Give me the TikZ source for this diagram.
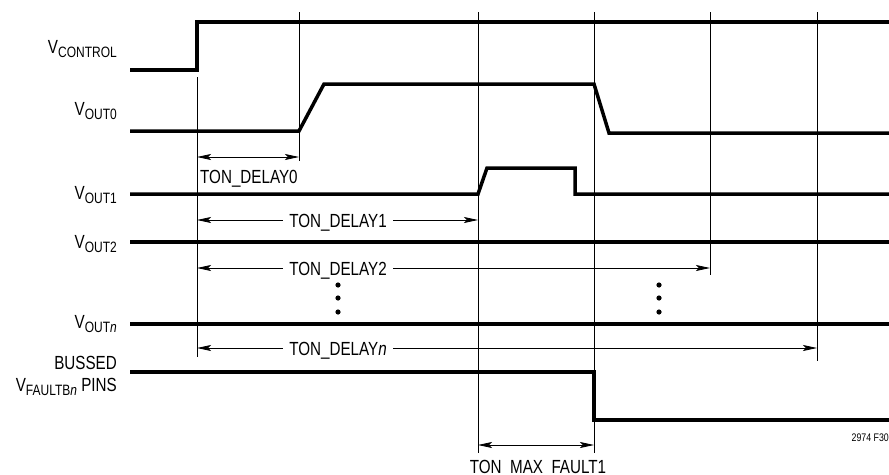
\documentclass[tikz,border=0pt]{standalone}
\usepackage{fontspec}
\setmainfont[FakeStretch=0.8]{Liberation Sans}
\usetikzlibrary{arrows.meta}
\newcommand\sbs[1]{\raisebox{-4pt}{\fontsize{15}{15}\selectfont #1}}
\begin{document}
\begin{tikzpicture}[x=1pt,y=-1pt,
  sig/.style={line width=3.5pt},
  guide/.style={line width=0.8pt},
  tip/.style={},
  dim/.style={line width=0.8pt,{Stealth[length=14pt,width=6pt,inset=3pt]}-{Stealth[length=14pt,width=6pt,inset=3pt]}},
  dimr/.style={line width=0.8pt,-{Stealth[length=14pt,width=6pt,inset=3pt]}},
  sname/.style={anchor=base east,font=\fontsize{19}{19}\selectfont,inner sep=0pt},
  tlbl/.style={anchor=base,font=\fontsize{19}{19}\selectfont,fill=white,inner xsep=6pt,inner ysep=0pt},
  dot/.style={fill=black}]
\useasboundingbox (0,0) rectangle (889,474);

% signal name labels
\node[sname] (nctl) at (117,53) {V\sbs{CONTROL}};
\node[sname] (nout0) at (117,115) {V\sbs{OUT0}};
\node[sname] (nout1) at (117,199) {V\sbs{OUT1}};
\node[sname] (nout2) at (117,248) {V\sbs{OUT2}};
\node[sname] (noutn) at (117,328) {V\sbs{OUT\textit{n}}};
\node[sname] (nbus) at (117,369) {BUSSED};
\node[sname] (nflt) at (117,391) {V\sbs{FAULTB\textit{n}} PINS};

% traces
\draw[sig] (130,70) -- (197,70) -- (197,22) -- (889,22);
\draw[sig] (130,131) -- (299,131) -- (324,84) -- (594,84) -- (609,133) -- (889,133);
\draw[sig] (130,194) -- (478,194) -- (487,168) -- (575,168) -- (575,194) -- (889,194);
\draw[sig] (130,242) -- (889,242);
\draw[sig] (130,324) -- (889,324);
\draw[sig] (130,372) -- (594,372) -- (594,420) -- (889,420);

% guide lines
\coordinate (g0t) at (197,77);  \coordinate (g0b) at (197,357);
\coordinate (g1t) at (299,12);  \coordinate (g1b) at (299,161);
\coordinate (g2t) at (478,12);  \coordinate (g2b) at (478,453);
\coordinate (g3t) at (594,12);  \coordinate (g3b) at (594,453);
\coordinate (g4t) at (710,12);  \coordinate (g4b) at (710,275);
\coordinate (g5t) at (817,12);  \coordinate (g5b) at (817,361);
\draw[guide] (g0t) -- (g0b);
\draw[guide] (g1t) -- (g1b);
\draw[guide] (g2t) -- (g2b);
\draw[guide] (g3t) -- (g3b);
\draw[guide] (g4t) -- (g4b);
\draw[guide] (g5t) -- (g5b);

% dimension arrows
\coordinate (d0l) at (197,157); \coordinate (d0r) at (299,157);
\coordinate (d1l) at (197,220); \coordinate (d1r) at (478,220);
\coordinate (d2l) at (197,268); \coordinate (d2r) at (710,268);
\coordinate (dnl) at (197,348); \coordinate (dnr) at (817,348);
\coordinate (dfl) at (478,445); \coordinate (dfr) at (594,445);
\draw[dim] (d0l) -- (d0r);
\draw[dim] (d1l) -- (d1r);
\draw[dim] (d2l) -- (d2r);
\draw[dim] (dnl) -- (dnr);
\draw[dim] (dfl) -- (dfr);

\node[anchor=base west,font=\fontsize{19}{19}\selectfont,inner sep=0pt] (l0) at (200,183) {TON\_DELAY0};
\node[tlbl] (l1) at (338,227) {TON\_DELAY1};
\node[tlbl] (l2) at (338,275) {TON\_DELAY2};
\node[tlbl] (ln) at (338,355) {TON\_DELAY\textit{n}};
\node[anchor=base,font=\fontsize{19}{19}\selectfont,inner sep=0pt] (lf) at (538,473) {TON\_MAX\_FAULT1};

% ellipsis dots
\fill[dot] (338,285) circle (2.6) (338,298) circle (2.6) (338,312) circle (2.6);
\fill[dot] (659,285) circle (2.6) (659,298) circle (2.6) (659,312) circle (2.6);

\node[anchor=base east,font=\fontsize{11}{11}\selectfont,inner sep=0pt] (fig) at (889,441) {2974 F30};
\end{tikzpicture}
\end{document}
